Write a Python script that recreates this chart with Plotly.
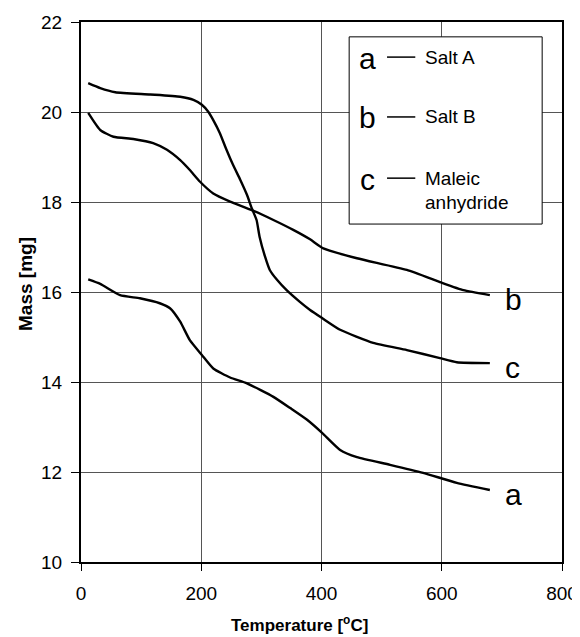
import plotly.graph_objects as go

# Data (temperature in °C, mass in mg)
temp_a = [12, 32, 65, 98, 131, 148, 165, 181, 201, 220, 248, 276, 320, 348, 376, 401, 431, 459, 514, 569, 625, 680]
mass_a = [16.28, 16.18, 15.93, 15.86, 15.75, 15.64, 15.34, 14.93, 14.6, 14.3, 14.1, 13.97, 13.67, 13.42, 13.16, 12.87, 12.49, 12.33, 12.16, 11.98, 11.76, 11.6]

temp_b = [12, 32, 54, 87, 120, 143, 165, 181, 198, 220, 248, 284, 320, 353, 381, 403, 459, 542, 597, 636, 680]
mass_b = [19.98, 19.6, 19.45, 19.4, 19.31, 19.16, 18.93, 18.71, 18.45, 18.19, 18.01, 17.82, 17.6, 17.38, 17.17, 16.97, 16.75, 16.49, 16.22, 16.04, 15.93]

temp_c = [12, 32, 57, 115, 165, 187, 201, 212, 220, 231, 242, 253, 265, 276, 284, 292, 297, 306, 314, 326, 342, 364, 381, 401, 431, 486, 542, 597, 625, 680]
mass_c = [20.64, 20.53, 20.44, 20.39, 20.34, 20.27, 20.16, 20.0, 19.82, 19.53, 19.16, 18.82, 18.49, 18.16, 17.86, 17.6, 17.23, 16.79, 16.49, 16.27, 16.04, 15.78, 15.6, 15.42, 15.16, 14.87, 14.71, 14.53, 14.44, 14.42]

series_letters = ["a", "b", "c"]
legend_names = ["Salt A", "Salt B", "Maleic", "anhydride"]
x_ticks = [0, 200, 400, 600, 800]
y_ticks = [10, 12, 14, 16, 18, 20, 22]

FONT = "Liberation Sans, Arial, sans-serif"

fig = go.Figure()
for tx, my in [(temp_a, mass_a), (temp_b, mass_b), (temp_c, mass_c)]:
    fig.add_trace(go.Scatter(x=tx, y=my, mode="lines",
                             line=dict(color="black", width=2.4, shape="spline", smoothing=0.5),
                             showlegend=False, hoverinfo="skip"))

annotations = []
# curve end labels
for tx, my, lab in [(temp_a, mass_a, series_letters[0]), (temp_b, mass_b, series_letters[1]),
                    (temp_c, mass_c, series_letters[2])]:
    annotations.append(dict(x=tx[-1] + 22, y=my[-1], xref="x", yref="y", text=lab,
                            showarrow=False, xanchor="left", yanchor="middle",
                            font=dict(family=FONT, size=30, color="black"), yshift=-4))

# legend contents (drawn inside a box)
leg_rows = [(21.22, series_letters[0], legend_names[0]),
            (19.89, series_letters[1], legend_names[1]),
            (18.53, series_letters[2], legend_names[2])]
for yv, lab, name in leg_rows:
    annotations.append(dict(x=476, y=yv, xref="x", yref="y", text=lab, showarrow=False,
                            xanchor="center", yanchor="middle", yshift=-1,
                            font=dict(family=FONT, size=30, color="black")))
    annotations.append(dict(x=568, y=yv, xref="x", yref="y", text=name, showarrow=False,
                            xanchor="left", yanchor="middle",
                            font=dict(family=FONT, size=19, color="black")))
annotations.append(dict(x=568, y=17.98, xref="x", yref="y", text=legend_names[3], showarrow=False,
                        xanchor="left", yanchor="middle",
                        font=dict(family=FONT, size=19, color="black")))

# axis titles
annotations.append(dict(x=0, y=0.5, xref="paper", yref="paper", text="<b>Mass [mg]</b>",
                        textangle=-90, showarrow=False, xanchor="center", yanchor="middle",
                        xshift=-56, yshift=8, font=dict(family=FONT, size=19, color="black")))
annotations.append(dict(x=0.455, y=0, xref="paper", yref="paper",
                        text="<b>Temperature [<sup>o</sup>C]</b>",
                        showarrow=False, xanchor="center", yanchor="middle",
                        yshift=-62, font=dict(family=FONT, size=17, color="black")))

shapes = [dict(type="rect", xref="x", yref="y", x0=446, x1=767, y0=17.51, y1=21.67,
               line=dict(color="black", width=1), fillcolor="white", layer="above")]
for yv, _, _ in leg_rows:
    shapes.append(dict(type="line", xref="x", yref="y", x0=509, x1=556, y0=yv, y1=yv,
                       line=dict(color="black", width=1.5), layer="above"))

# page body has an 8px margin: offset the figure margins so the plot area lands where the reference has it
fig.update_layout(
    width=572, height=629,
    margin=dict(l=73, r=18, t=14, b=75),
    paper_bgcolor="white", plot_bgcolor="white",
    font=dict(family=FONT, size=19, color="black"),
    annotations=annotations, shapes=shapes,
    showlegend=False,
)
fig.update_xaxes(range=[0, 800], tickvals=x_ticks, ticks="outside", ticklen=7, tickcolor="black",
                 showline=True, linecolor="black", linewidth=2, mirror=True, automargin=False,
                 showgrid=True, gridcolor="#555555", gridwidth=1, zeroline=False,
                 tickfont=dict(size=19), ticklabelstandoff=6)
fig.update_yaxes(range=[10, 22], tickvals=y_ticks, ticks="outside", ticklen=8, tickcolor="black",
                 showline=True, linecolor="black", linewidth=2, mirror=True, automargin=False,
                 showgrid=True, gridcolor="#555555", gridwidth=1, zeroline=False,
                 tickfont=dict(size=19), ticklabelstandoff=5)

fig.write_html("out.html")
